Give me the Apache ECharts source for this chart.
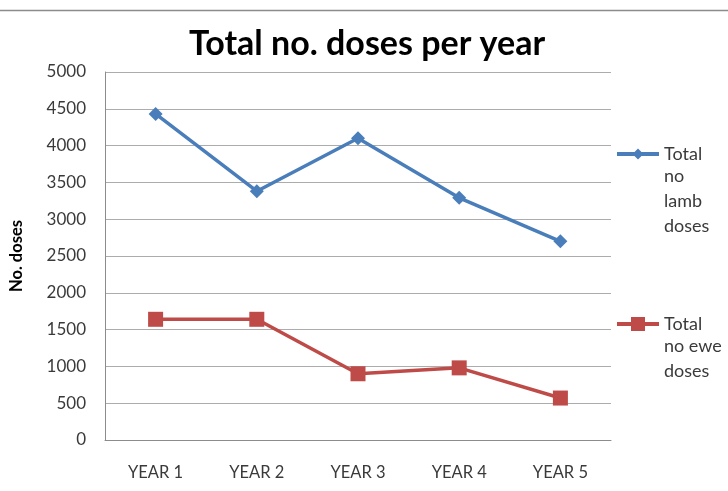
<!DOCTYPE html>
<html>
<head>
<meta charset="utf-8">
<script src="https://cdn.jsdelivr.net/npm/echarts@6/dist/echarts.min.js"></script>
<style>
  html, body { margin: 0; padding: 0; background: #fff; }
  #chart { width: 728px; height: 491px; }
</style>
</head>
<body>
<div id="chart"></div>
<script>
// Category labels along the x axis
const years = ['YEAR 1', 'YEAR 2', 'YEAR 3', 'YEAR 4', 'YEAR 5'];
// Doses given each year
const lambDoses = [4430, 3380, 4100, 3290, 2700];
const eweDoses = [1640, 1640, 900, 980, 570];
// Legend entries: the first line sits beside the key, the rest wrap below it
const lambLegend = ['Total', 'no', 'lamb', 'doses'];
const eweLegend = ['Total', 'no ewe', 'doses'];

const FONT = 'Lato, "Noto Sans", sans-serif';
const BLUE = '#4a7ebb';
const RED = '#be4b48';
const TEXT = '#3a3a3a';
const LEGEND_SIZE = 18;
const LEGEND_LINE = 24.6;

// Legend keys: a thick line with the series marker in the middle
const LAMB_KEY = 'path://M0,5L42,5L42,9L0,9Z M21,1.5L26.5,7L21,12.5L15.5,7Z M0,0L0.01,0 M0,14L0.01,14';
const EWE_KEY = 'path://M0,5L42,5L42,9L0,9Z M14,0L28,0L28,14L14,14Z';

const chart = echarts.init(document.getElementById('chart'));

function legendFor(seriesName, first, icon, top) {
  return {
    data: [{ name: seriesName, icon: icon }],
    left: 617,
    top: top,
    padding: 0,
    itemWidth: 42,
    itemHeight: 14,
    itemGap: 0,
    textStyle: { fontFamily: FONT, fontSize: LEGEND_SIZE, color: TEXT },
    formatter: function () { return first; }
  };
}

// Continuation lines of a legend label, placed under its first line
function legendTail(lines, firstLineY) {
  return lines.slice(1).map(function (t, i) {
    return {
      type: 'text',
      left: 664,
      top: firstLineY + LEGEND_LINE * (i + 1) - LEGEND_SIZE / 2 - 1,
      style: { text: t, font: LEGEND_SIZE + 'px ' + FONT, fill: TEXT }
    };
  });
}

chart.setOption({
  animation: false,
  backgroundColor: '#fff',
  title: {
    text: 'Total no. doses per year',
    left: 362,
    textAlign: 'center',
    top: 22,
    textStyle: { fontFamily: FONT, fontWeight: 'bold', fontSize: 34, color: '#000' }
  },
  graphic: [{
    type: 'line',
    shape: { x1: 0, y1: 10.5, x2: 728, y2: 10.5 },
    style: { stroke: '#8c8c8c', lineWidth: 1.5 }
  }].concat(legendTail(lambLegend, 153), legendTail(eweLegend, 323)),
  legend: [
    legendFor('Total no lamb doses', lambLegend[0], LAMB_KEY, 145),
    legendFor('Total no ewe doses', eweLegend[0], EWE_KEY, 315)
  ],
  grid: { left: 101, right: 117, top: 72, bottom: 51 },
  xAxis: {
    type: 'category',
    data: years,
    boundaryGap: true,
    axisLine: { lineStyle: { color: '#8c8c8c', width: 1 } },
    axisTick: { show: false },
    axisLabel: { fontFamily: FONT, fontSize: 16.5, color: TEXT, margin: 24 }
  },
  yAxis: {
    type: 'value',
    min: 0,
    max: 5000,
    interval: 500,
    name: 'No. doses',
    nameLocation: 'middle',
    nameGap: 80,
    nameRotate: 90,
    nameTextStyle: { fontFamily: FONT, fontWeight: 'bold', fontSize: 16.5, color: '#000' },
    axisLine: { show: true, lineStyle: { color: '#8c8c8c', width: 1 } },
    axisTick: { show: false },
    axisLabel: { fontFamily: FONT, fontSize: 17, color: TEXT, margin: 19, formatter: function (v) { return String(v); } },
    splitLine: { lineStyle: { color: '#acacac', width: 1 } }
  },
  series: [
    {
      name: 'Total no lamb doses',
      type: 'line',
      data: lambDoses,
      symbol: 'diamond',
      symbolSize: 14,
      lineStyle: { color: BLUE, width: 3.5 },
      itemStyle: { color: BLUE }
    },
    {
      name: 'Total no ewe doses',
      type: 'line',
      data: eweDoses,
      symbol: 'rect',
      symbolSize: 15,
      lineStyle: { color: RED, width: 3.5 },
      itemStyle: { color: RED }
    }
  ]
});
</script>
</body>
</html>
